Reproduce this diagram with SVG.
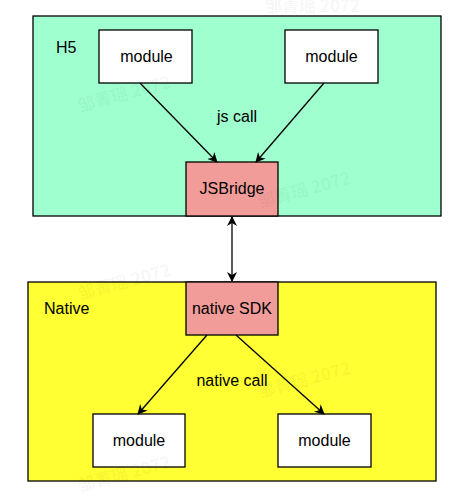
<svg xmlns="http://www.w3.org/2000/svg" width="453" height="499" viewBox="0 0 453 499">
<defs>
<marker id="ah" viewBox="0 0 10 10" refX="9" refY="5" markerWidth="10" markerHeight="10" markerUnits="userSpaceOnUse" orient="auto-start-reverse">
<path d="M0,0 L10,5 L0,10 L3,5 Z" fill="#000"/>
</marker>
<style>
text{font-family:"Liberation Sans",Arial,sans-serif;font-size:16px;fill:#000}
.c{text-anchor:middle}
.box{stroke:#000;stroke-width:1.3}
.mod{fill:#fff}
.pink{fill:#F19C99}
.wm{font-family:"Noto Sans CJK SC",sans-serif;font-size:17px;fill:#000;fill-opacity:0.05;font-weight:bold}
.ln{stroke:#000;stroke-width:1.3;fill:none}
</style>
</defs>
<rect width="453" height="499" fill="#fff"/>
<g id="h5">
<rect class="box" x="33" y="16" width="408" height="200" fill="#9FFFCF"/>
<text x="56" y="53">H5</text>
</g>
<g id="native">
<rect class="box" x="28" y="282" width="408" height="199" fill="#FFFF33"/>
<text x="44" y="314">Native</text>
</g>
<g id="h5-module-1">
<rect class="box mod" x="99" y="30" width="93" height="53"/>
<text class="c" x="146.5" y="61.5">module</text>
</g>
<g id="h5-module-2">
<rect class="box mod" x="285" y="30" width="93" height="53"/>
<text class="c" x="331.5" y="61.5">module</text>
</g>
<g id="jsbridge">
<rect class="box pink" x="186" y="162" width="92" height="54"/>
<text class="c" x="232" y="194">JSBridge</text>
</g>
<g id="native-sdk">
<rect class="box pink" x="186" y="282" width="92" height="53"/>
<text class="c" x="232" y="314">native SDK</text>
</g>
<g id="native-module-1">
<rect class="box mod" x="93" y="414" width="92" height="53"/>
<text class="c" x="139" y="446">module</text>
</g>
<g id="native-module-2">
<rect class="box mod" x="278" y="414" width="93" height="53"/>
<text class="c" x="324.5" y="446">module</text>
</g>
<g id="connectors">
<line class="ln" x1="140" y1="83" x2="217" y2="162" marker-end="url(#ah)"/>
<line class="ln" x1="324" y1="83" x2="256" y2="162" marker-end="url(#ah)"/>
<line class="ln" x1="232" y1="217" x2="232" y2="281" marker-start="url(#ah)" marker-end="url(#ah)"/>
<line class="ln" x1="207" y1="335" x2="138" y2="414" marker-end="url(#ah)"/>
<line class="ln" x1="236" y1="335" x2="324" y2="414" marker-end="url(#ah)"/>
<text class="c" x="237" y="122">js call</text>
<text class="c" x="232" y="386">native call</text>
</g>
<g id="watermark">
<text class="wm" transform="translate(80,112) rotate(-15)">邹菁瑶 2072</text>
<text class="wm" transform="translate(260,208) rotate(-15)">邹菁瑶 2072</text>
<text class="wm" x="265" y="12" font-size="11">邹菁瑶 2072</text>
<text class="wm" transform="translate(80,300) rotate(-15)">邹菁瑶 2072</text>
<text class="wm" transform="translate(260,398) rotate(-15)">邹菁瑶 2072</text>
<text class="wm" transform="translate(80,492) rotate(-15)">邹菁瑶 2072</text>
</g>
</svg>
